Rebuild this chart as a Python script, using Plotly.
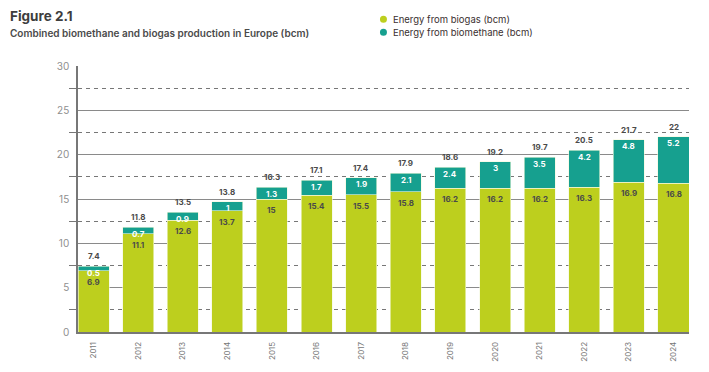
import plotly.graph_objects as go

years = ["2011", "2012", "2013", "2014", "2015", "2016", "2017",
         "2018", "2019", "2020", "2021", "2022", "2023", "2024"]
biogas = [6.9, 11.1, 12.6, 13.7, 15, 15.4, 15.5, 15.8, 16.2, 16.2, 16.2, 16.3, 16.9, 16.8]
biomethane = [0.5, 0.7, 0.9, 1, 1.3, 1.7, 1.9, 2.1, 2.4, 3, 3.5, 4.2, 4.8, 5.2]
totals = ["7.4", "11.8", "13.5", "13.8", "16.3", "17.1", "17.4",
          "17.9", "18.6", "19.2", "19.7", "20.5", "21.7", "22"]
series_names = ["Energy from biogas (bcm)", "Energy from biomethane (bcm)"]

GREEN = "#BDCF1E"
TEAL = "#16A08F"
FONT = "Inter"
LABEL = "#4a4a4a"

L, R, T, B = 77.7, 20, 66, 40
PW, PH = 709 - L - R, 372 - T - B


def px(x):
    return (x - L) / PW


def py(y):
    return (372 - B - y) / PH


fig = go.Figure()
fig.add_trace(go.Bar(x=years, y=biogas, name=series_names[0],
                     marker=dict(color=GREEN, line=dict(color="#f4f8dc", width=0.6)),
                     showlegend=False, hoverinfo="y"))
fig.add_trace(go.Bar(x=years, y=biomethane, name=series_names[1],
                     marker=dict(color=TEAL, line=dict(color="#f4f8dc", width=0.6)),
                     showlegend=False, hoverinfo="y"))

ann = []
for i, yr in enumerate(years):
    top = biogas[i] + biomethane[i]
    ann.append(dict(x=i, y=top, text=totals[i], showarrow=False, yanchor="bottom", yshift=4,
                    borderpad=0, font=dict(family=FONT, size=8, color=LABEL, weight=700)))
    ann.append(dict(x=i, y=top, text=str(biomethane[i]), showarrow=False, yanchor="top", yshift=-0.5,
                    borderpad=0, font=dict(family=FONT, size=8, color="white", weight=700)))
    ann.append(dict(x=i, y=biogas[i], text=str(biogas[i]), showarrow=False, yanchor="top", yshift=-5,
                    borderpad=0, font=dict(family=FONT, size=8, color=LABEL, weight=700)))

ann.append(dict(xref="paper", yref="paper", x=px(8), y=py(16.5),
                xanchor="left", yanchor="middle", showarrow=False, text="Figure 2.1",
                font=dict(family=FONT, size=13.5, color="#3d3d3d", weight=700)))
ann.append(dict(xref="paper", yref="paper", x=px(8), y=py(33.3),
                xanchor="left", yanchor="middle", showarrow=False,
                text="Combined biomethane and biogas production in Europe (bcm)",
                font=dict(family=FONT, size=10, color="#4a4a4a", weight=600)))

shapes = []
for k, (name, col) in enumerate(zip(series_names, [GREEN, TEAL])):
    yc = 19.3 + 13 * k
    shapes.append(dict(type="circle", xref="paper", yref="paper", xsizemode="pixel", ysizemode="pixel",
                       xanchor=px(383.3), yanchor=py(yc), x0=-3.5, x1=3.5, y0=-3.5, y1=3.5,
                       fillcolor=col, line=dict(width=0)))
    ann.append(dict(xref="paper", yref="paper", x=px(391), y=py(yc), xanchor="left", yanchor="middle",
                    showarrow=False, text=name, font=dict(family=FONT, size=9.5, color="#3a3030")))

fig.update_layout(
    barmode="stack",
    bargap=0.305,
    width=709, height=372,
    margin=dict(l=L, r=R, t=T, b=B, autoexpand=False),
    paper_bgcolor="white", plot_bgcolor="white",
    font=dict(family=FONT),
    annotations=ann,
    shapes=shapes,
    showlegend=False,
)
fig.update_xaxes(type="category", range=[-0.3475, 13.3475], showline=True, linecolor="#777777",
                 linewidth=1.5, showgrid=False, ticks="", tickangle=-90, ticklabelstandoff=5,
                 tickfont=dict(family=FONT, size=8, color="#777777"))
fig.update_yaxes(range=[0, 30], dtick=5, showline=True, linecolor="#777777", linewidth=1.5,
                 showgrid=True, gridcolor="#8a8a8a", gridwidth=1.2, zeroline=False, ticks="",
                 ticklabelstandoff=5, tickfont=dict(family=FONT, size=10, color="#8f8f8f"),
                 minor=dict(tick0=2.5, dtick=5, showgrid=True, gridcolor="#777777", gridwidth=1.2,
                            griddash="4px,4px", ticks="outside", ticklen=7, tickcolor="#777777",
                            tickwidth=1.2))

fig.write_html("out.html", config={"displayModeBar": False},
               post_script="document.body.style.margin='0';")
